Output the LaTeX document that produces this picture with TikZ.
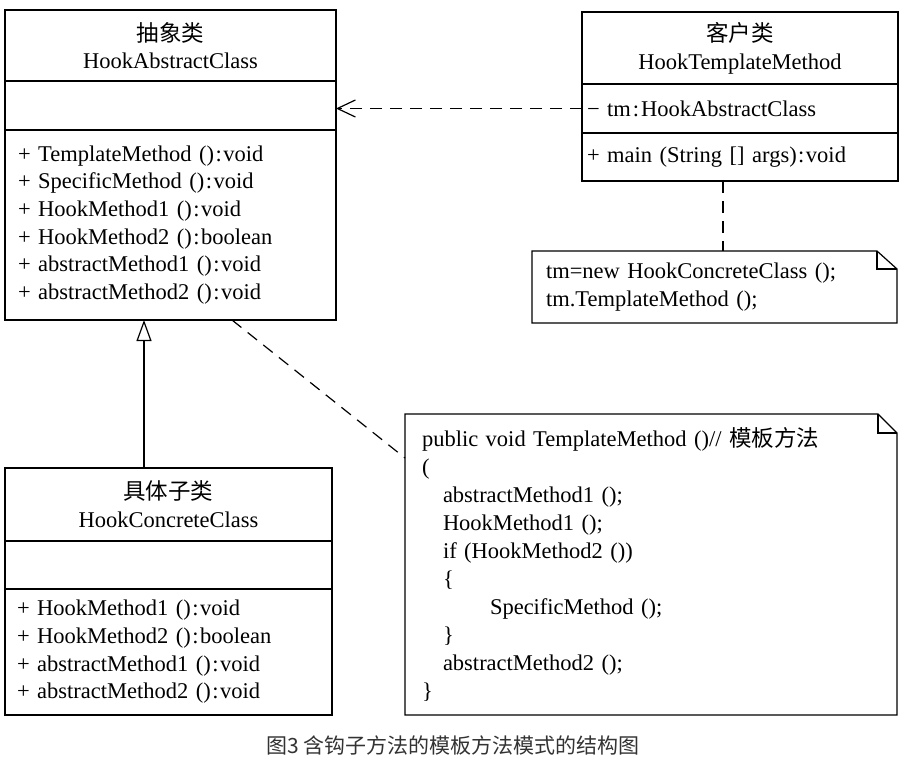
\documentclass[tikz,border=0pt]{standalone}
\usepackage{fontspec}
\setmainfont{Liberation Serif}
\newfontfamily\cjk{Noto Sans CJK SC}
\usetikzlibrary{arrows.meta}
\definecolor{capgray}{HTML}{333333}
\newcommand{\cln}{\kern1.5pt:\kern1.5pt}
\begin{document}
\begin{tikzpicture}[x=1pt,y=-1pt,
  box/.style={draw, line width=1.2pt, rectangle, inner sep=0pt, outer sep=0pt,
    anchor=north west, font=\fontsize{22.5}{27.7}\selectfont},
  hdr/.style={box, align=center},
  lst/.style={box, align=left},
  notetxt/.style={rectangle, inner sep=0pt, outer sep=0pt, anchor=north west,
    align=left, font=\fontsize{22.5}{28}\selectfont},
  noteline/.style={line width=1.2pt},
  dashln/.style={line width=1.2pt, dash pattern=on 12pt off 8pt},
  solidln/.style={line width=1.2pt}
]
\fill[white] (0,0) rectangle (903,760);
\useasboundingbox (0,0) rectangle (903,760);

% ---------- Abstract class ----------
\node[hdr, minimum width=331pt, minimum height=71pt] (absH) at (5,10)
  {{\cjk 抽象类}\\HookAbstractClass};
\node[box, minimum width=331pt, minimum height=49pt] (absA) at (absH.south west) {};
\node[lst, minimum width=331pt, minimum height=190pt, text width=305pt, inner xsep=13pt]
  (absM) at (absA.south west)
  {+ TemplateMethod ()\cln void\\
   + SpecificMethod ()\cln void\\
   + HookMethod1 ()\cln void\\
   + HookMethod2 ()\cln boolean\\
   + abstractMethod1 ()\cln void\\
   + abstractMethod2 ()\cln void};

% ---------- Client class ----------
\node[hdr, minimum width=316pt, minimum height=72pt] (cH) at (582,12)
  {{\cjk 客户类}\\HookTemplateMethod};
\node[lst, minimum width=316pt, minimum height=49pt, text width=306pt, inner xsep=5pt]
  (cA) at (cH.south west) {− tm\kern2pt:\kern2pt HookAbstractClass};
\node[lst, minimum width=316pt, minimum height=48pt, text width=306pt, inner xsep=5pt]
  (cM) at (cA.south west) {+ main (String [] args)\cln void};

% ---------- Concrete class ----------
\node[hdr, minimum width=327pt, minimum height=73pt] (conH) at (5,468)
  {{\cjk 具体子类}\\HookConcreteClass};
\node[box, minimum width=327pt, minimum height=48pt] (conA) at (conH.south west) {};
\node[lst, minimum width=327pt, minimum height=126pt, text width=303pt, inner xsep=12pt]
  (conM) at (conA.south west)
  {+ HookMethod1 ()\cln void\\
   + HookMethod2 ()\cln boolean\\
   + abstractMethod1 ()\cln void\\
   + abstractMethod2 ()\cln void};

% ---------- Small note ----------
\node[notetxt, minimum width=365pt, minimum height=72pt, text width=337pt, inner xsep=14pt]
  (sn) at (532,251)
  {tm=new HookConcreteClass ();\\tm.TemplateMethod ();};
\draw[noteline] (sn.north west) -- ([xshift=-20pt]sn.north east)
  -- ([yshift=-18pt]sn.north east) -- (sn.south east) -- (sn.south west) -- cycle;
\draw[noteline] ([xshift=-20pt]sn.north east) |- ([yshift=-18pt]sn.north east);

% ---------- Big note ----------
\node[notetxt, minimum width=492pt, minimum height=301pt, text width=458pt, inner xsep=17pt]
  (bn) at (405,414)
  {public void TemplateMethod ()// {\cjk 模板方法}\\
   (\\
   \hspace*{21pt}abstractMethod1 ();\\
   \hspace*{21pt}HookMethod1 ();\\
   \hspace*{21pt}if (HookMethod2 ())\\
   \hspace*{21pt}\{\\
   \hspace*{68pt}SpecificMethod ();\\
   \hspace*{21pt}\}\\
   \hspace*{21pt}abstractMethod2 ();\\
   \}};
\draw[noteline] (bn.north west) -- ([xshift=-19pt]bn.north east)
  -- ([yshift=-19pt]bn.north east) -- (bn.south east) -- (bn.south west) -- cycle;
\draw[noteline] ([xshift=-19pt]bn.north east) |- ([yshift=-19pt]bn.north east);

% ---------- Connectors ----------
\draw[dashln, -{Straight Barb[length=18pt,width=17pt,line width=1.2pt]}]
  (cA.west) -- (cA.west -| absA.east);
\draw[dashln] ([xshift=-17pt]cM.south) -- ([xshift=-17pt]cM.south |- sn.north);
\draw[dashln] ([xshift=61.5pt]absM.south) -- ([yshift=-44pt]bn.north west);
\draw[solidln, -{Triangle[open,length=21pt,width=15pt,fill=white]}]
  ([xshift=-24.5pt]conH.north) -- ([xshift=-24.5pt]conH.north |- absM.south);

% ---------- Caption ----------
\node[font=\cjk\fontsize{21}{24}\selectfont, text=capgray, inner sep=0pt] (cap) at (453,745)
  {图3 含钩子方法的模板方法模式的结构图};
\end{tikzpicture}
\end{document}
